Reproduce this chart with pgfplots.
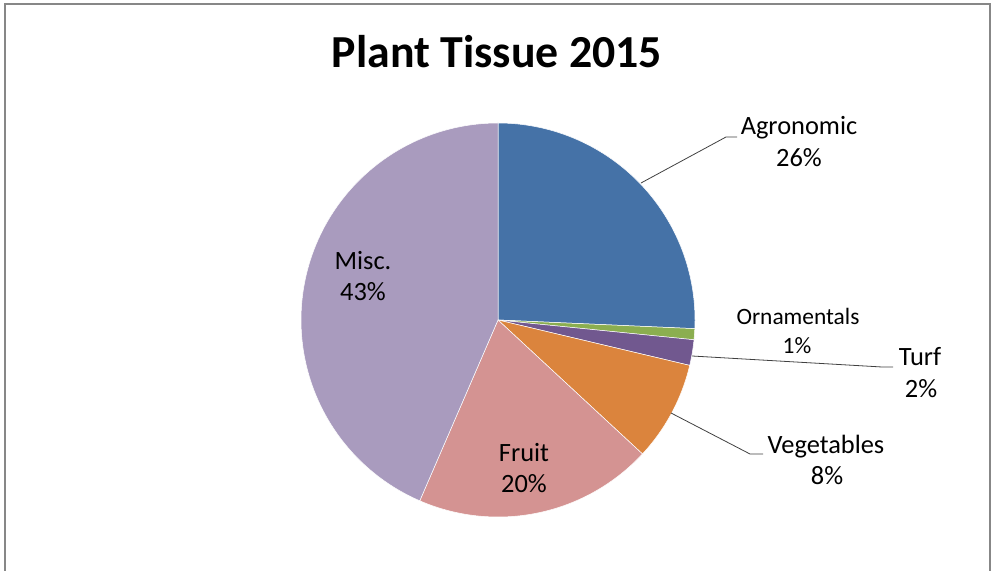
\documentclass[border=0pt]{standalone}
\usepackage{pgfplots}
\pgfplotsset{compat=1.18}
\usepackage{fontspec}
\setmainfont{Carlito}
\definecolor{cAgr}{HTML}{4572A7}
\definecolor{cOrn}{HTML}{8BAE50}
\definecolor{cTurf}{HTML}{71588F}
\definecolor{cVeg}{HTML}{DB843D}
\definecolor{cFruit}{HTML}{D49392}
\definecolor{cMisc}{HTML}{A99BBE}
\definecolor{frame}{HTML}{878787}
\begin{document}
\begin{tikzpicture}
\useasboundingbox (0,0) rectangle (995bp,571bp);
\begin{axis}[
  at={(0,0)}, anchor=south west,
  width=995bp, height=571bp, scale only axis,
  xmin=0, xmax=995, ymin=0, ymax=571,
  axis lines=none, clip=true,
  enlargelimits=false,
]
% slices (percent): Agronomic 25.7, Ornamentals 0.9, Turf 2.1, Vegetables 8.2, Fruit 19.6, Misc. 43.5
\addplot[fill=cAgr, draw=white, line width=0.5bp, domain=-2.52:90, samples=80] ({498+197*cos(x)},{251+197*sin(x)}) -- (axis cs:498,251) -- cycle;
\addplot[fill=cOrn, draw=white, line width=0.5bp, domain=-5.76:-2.52, samples=6] ({498+197*cos(x)},{251+197*sin(x)}) -- (axis cs:498,251) -- cycle;
\addplot[fill=cTurf, draw=white, line width=0.5bp, domain=-13.32:-5.76, samples=10] ({498+197*cos(x)},{251+197*sin(x)}) -- (axis cs:498,251) -- cycle;
\addplot[fill=cVeg, draw=white, line width=0.5bp, domain=-42.84:-13.32, samples=30] ({498+197*cos(x)},{251+197*sin(x)}) -- (axis cs:498,251) -- cycle;
\addplot[fill=cFruit, draw=white, line width=0.5bp, domain=-113.4:-42.84, samples=60] ({498+197*cos(x)},{251+197*sin(x)}) -- (axis cs:498,251) -- cycle;
\addplot[fill=cMisc, draw=white, line width=0.5bp, domain=-270:-113.4, samples=120] ({498+197*cos(x)},{251+197*sin(x)}) -- (axis cs:498,251) -- cycle;
% frame
\draw[frame, line width=2bp] (4.5,0) -- (4.5,566.5) -- (989.5,566.5) -- (989.5,0);
% leader lines
\draw[black!75, line width=0.8bp] (641,388) -- (726,434) -- (737,434);
\draw[black!75, line width=0.8bp] (692,215) -- (882,204) -- (893,204);
\draw[black!75, line width=0.8bp] (671,158) -- (750,117) -- (763,117);
% labels
\node[anchor=base, inner sep=0pt, font=\fontsize{46}{52}\selectfont\bfseries] at (497,503) {Plant Tissue 2015};
\tikzset{lab/.style={anchor=base, font=\fontsize{26.5}{30}\selectfont, inner sep=0pt},
         sml/.style={anchor=base, font=\fontsize{23.5}{28}\selectfont, inner sep=0pt}}
\node[lab] at (799,436) {Agronomic};
\node[lab] at (799,404) {26\%};
\node[sml] at (798,246) {Ornamentals};
\node[sml] at (797,217) {1\%};
\node[lab] at (920,205) {Turf};
\node[lab] at (921,173) {2\%};
\node[lab] at (826,117) {Vegetables};
\node[lab] at (827,86) {8\%};
\node[lab] at (363,301) {Misc.};
\node[lab] at (363,270) {43\%};
\node[lab] at (524,109) {Fruit};
\node[lab] at (524,78) {20\%};
\end{axis}
\end{tikzpicture}
\end{document}
